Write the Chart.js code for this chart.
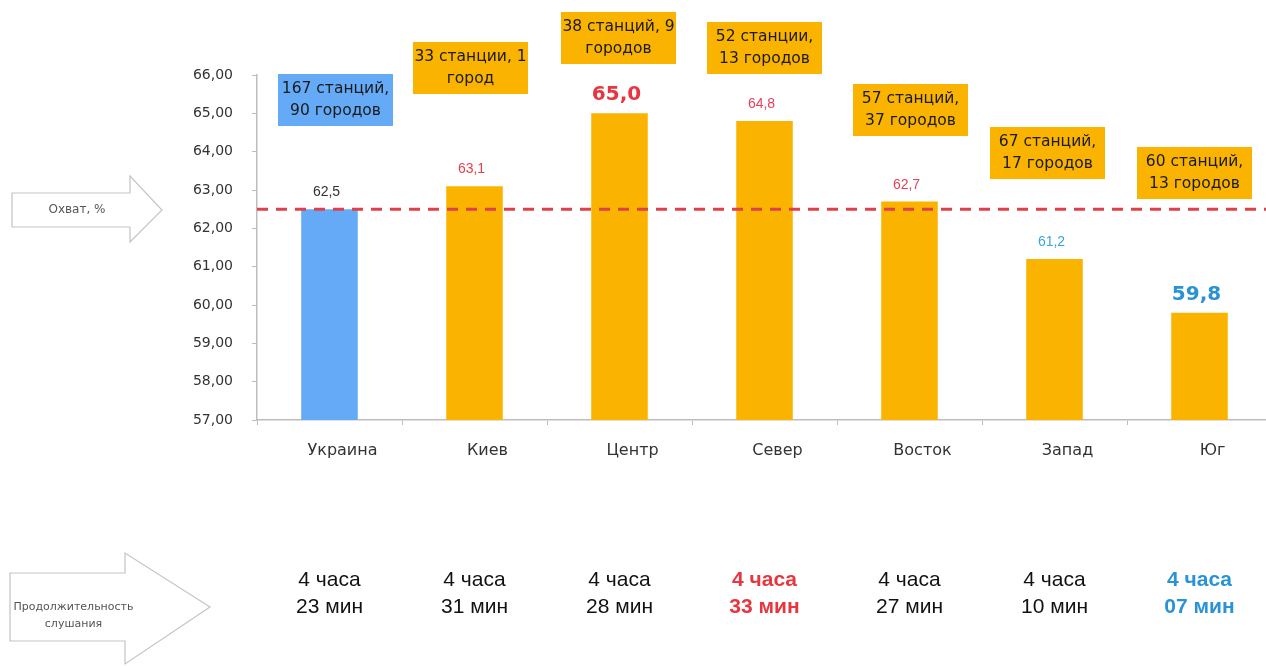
<!DOCTYPE html>
<html>
<head>
<meta charset="utf-8">
<script src="https://cdn.jsdelivr.net/npm/chart.js@4"></script>
<style>
  html, body { margin: 0; padding: 0; background: #fff; overflow: hidden; }
  #myChart { position: absolute; left: 0; top: 0; }
</style>
</head>
<body>
<canvas id="myChart" width="1280" height="666"></canvas>
<script>
const categories = ["Украина", "Киев", "Центр", "Север", "Восток", "Запад", "Юг"];
const coverage = [62.5, 63.1, 65.0, 64.8, 62.7, 61.2, 59.8];
const avgCoverage = 62.5;
const stations = ["167 станций,", "33 станции, 1", "38 станций, 9", "52 станции,", "57 станций,", "67 станций,", "60 станций,"];
const cities = ["90 городов", "город", "городов", "13 городов", "37 городов", "17 городов", "13 городов"];
const durHours = ["4 часа", "4 часа", "4 часа", "4 часа", "4 часа", "4 часа", "4 часа"];
const durMinutes = ["23 мин", "31 мин", "28 мин", "33 мин", "27 мин", "10 мин", "07 мин"];
const yMin = 57;
const yMax = 66;

const ARIAL = "'Liberation Sans', Arial, sans-serif";
const WIDE = "'DejaVu Sans', Verdana, sans-serif";
const ORANGE = "#fab400";
const BLUE = "#64aaf6";
const RED = "#e8353f";
const SKY = "#2a93d6";

// styling per category (layout only, not data)
const barColors = [BLUE, ORANGE, ORANGE, ORANGE, ORANGE, ORANGE, ORANGE];
const boxColors = [BLUE, ORANGE, ORANGE, ORANGE, ORANGE, ORANGE, ORANGE];
const boxTops = [74, 42, 12, 22, 84, 127, 147];
const boxShift = [6, -4, -1, 0, 1, -7, -5];
const valueStyles = [
  { big: false, color: "#333" },
  { big: false, color: "#e8404a" },
  { big: true, color: RED },
  { big: false, color: "#e8405a" },
  { big: false, color: "#e8405a" },
  { big: false, color: "#3aa6d8" },
  { big: true, color: SKY },
];
const durStyles = [
  { bold: false, color: "#111" },
  { bold: false, color: "#111" },
  { bold: false, color: "#111" },
  { bold: true, color: RED },
  { bold: false, color: "#111" },
  { bold: false, color: "#111" },
  { bold: true, color: SKY },
];

const fmt = (v, d) => v.toFixed(d).replace(".", ",");

/**
 * Draw a right-pointing outlined arrow with a caption
 */
function drawArrow(ctx, x0, x1, tipX, bodyTop, bodyBottom, headTop, headBottom, lines, textY, size) {
  const mid = (bodyTop + bodyBottom) / 2;
  ctx.save();
  ctx.beginPath();
  ctx.moveTo(x0, bodyTop);
  ctx.lineTo(x1, bodyTop);
  ctx.lineTo(x1, headTop);
  ctx.lineTo(tipX, mid);
  ctx.lineTo(x1, headBottom);
  ctx.lineTo(x1, bodyBottom);
  ctx.lineTo(x0, bodyBottom);
  ctx.closePath();
  ctx.fillStyle = "#fff";
  ctx.fill();
  ctx.strokeStyle = "#c4c4c4";
  ctx.lineWidth = 1.2;
  ctx.stroke();
  ctx.fillStyle = "#555";
  ctx.font = `${size}px ${WIDE}`;
  ctx.textAlign = "center";
  ctx.textBaseline = "middle";
  lines.forEach((t, i) => ctx.fillText(t, (x0 + x1) / 2 + 6, textY + i * 17));
  ctx.restore();
}

const extrasPlugin = {
  id: "extras",
  afterDatasetsDraw(chart) {
    const { ctx, chartArea, scales } = chart;
    const x = scales.x;
    const y = scales.y;

    // average line
    const ay = y.getPixelForValue(avgCoverage);
    ctx.save();
    ctx.strokeStyle = "#e0404a";
    ctx.lineWidth = 3;
    ctx.setLineDash([11, 8]);
    ctx.beginPath();
    ctx.moveTo(chartArea.left, ay);
    ctx.lineTo(chart.width, ay);
    ctx.stroke();
    ctx.restore();

    ctx.save();
    ctx.textAlign = "center";
    categories.forEach((c, i) => {
      const cx = x.getPixelForValue(i);
      const top = y.getPixelForValue(coverage[i]);

      // value label
      const s = valueStyles[i];
      ctx.font = s.big ? `bold 20px ${WIDE}` : `14px ${ARIAL}`;
      ctx.fillStyle = s.color;
      ctx.textBaseline = "alphabetic";
      ctx.fillText(fmt(coverage[i], 1), cx - 3, top - 13);

      // station box
      const bw = 115, bh = 52, bt = boxTops[i], bx = cx + boxShift[i];
      ctx.fillStyle = boxColors[i];
      ctx.fillRect(bx - bw / 2, bt, bw, bh);
      ctx.fillStyle = "#1a1a1a";
      ctx.font = `15.5px ${WIDE}`;
      ctx.textBaseline = "middle";
      ctx.fillText(stations[i], bx, bt + 15);
      ctx.fillText(cities[i], bx, bt + 37);

      // listening duration
      const d = durStyles[i];
      ctx.font = `${d.bold ? "bold " : ""}21px ${ARIAL}`;
      ctx.fillStyle = d.color;
      ctx.fillText(durHours[i], cx, 580);
      ctx.fillText(durMinutes[i], cx, 607);
    });
    ctx.restore();

    drawArrow(ctx, 12, 130, 162, 193, 227, 176, 242, ["Охват, %"], 210, 12);
    drawArrow(ctx, 10, 125, 210, 573, 641, 553, 664, ["Продолжительность", "слушания"], 607, 11);
  },
};

const ctx = document.getElementById("myChart").getContext("2d");
new Chart(ctx, {
  type: "bar",
  data: {
    labels: categories,
    datasets: [
      {
        data: coverage,
        backgroundColor: barColors,
        borderWidth: 0,
        categoryPercentage: 1,
        barPercentage: 0.39,
      },
    ],
  },
  options: {
    responsive: false,
    animation: false,
    devicePixelRatio: 1,
    layout: { padding: { top: 75, right: 8, left: 0, bottom: 0 } },
    plugins: { legend: { display: false }, tooltip: { enabled: false } },
    scales: {
      x: {
        offset: true,
        grid: { offset: true, drawOnChartArea: false, tickLength: 5, color: "#bdbdbd" },
        border: { color: "#bdbdbd", width: 1.5 },
        ticks: { color: "#333", font: { family: WIDE, size: 16 }, padding: 16, labelOffset: 13 },
        afterFit(scale) { scale.height = 246; },
      },
      y: {
        min: yMin,
        max: yMax,
        grid: { drawOnChartArea: false, tickLength: 5, color: "#bdbdbd" },
        border: { color: "#bdbdbd", width: 1.5 },
        ticks: {
          stepSize: 1,
          color: "#333",
          padding: 19,
          font: { family: WIDE, size: 14 },
          callback: (v) => fmt(v, 2),
        },
        afterFit(scale) { scale.width = 257; },
      },
    },
  },
  plugins: [extrasPlugin],
});
</script>
</body>
</html>
